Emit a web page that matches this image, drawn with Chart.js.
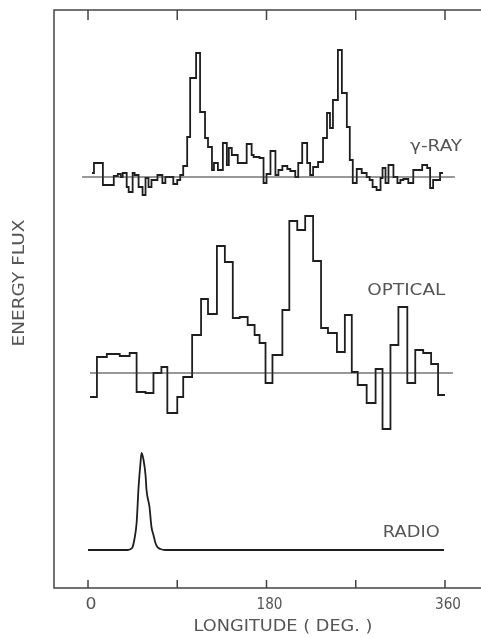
<!DOCTYPE html>
<html>
<head>
<meta charset="utf-8">
<script src="https://cdn.jsdelivr.net/npm/chart.js@4.4.0/dist/chart.umd.min.js"></script>
<style>
html,body{margin:0;padding:0;background:#fff;}
</style>
</head>
<body>
<canvas id="chart" width="481" height="638"></canvas>
<script>
// longitude (deg) of each bin start, flux relative to the series baseline
const xrayLon = [4,6,15,26,30,33,35,39,41,45,47,51,55,58,61,64,70,75,78,86,90,93,96,100,103,109,113,118,121,125,127,131,136,140,142,145,151,160,165,167,173,177,180,184,189,192,196,201,204,209,212,216,221,224,227,232,237,241,244,247,252,256,261,264,267,271,276,281,284,287,291,295,297,300,303,308,312,315,318,323,328,337,342,345,348,355,358];
const xrayFlux = [4,14,-8,1,3,0,4,-10,-15,4,2,-10,-18,-1,-10,-3,2,-6,0,-7,-3,2,11,40,99,124,65,39,30,7,14,7,34,12,29,22,14,33,22,20,19,-6,3,26,2,7,11,8,6,0,14,34,14,2,10,15,39,64,49,77,127,84,50,17,-6,8,4,0,-3,-10,-13,-1,9,-6,12,0,-6,-3,-2,-6,7,12,9,-11,-3,4,4];

const opticalLon = [2,9,19,32,42,49,58,66,74,80,90,96,105,114,121,130,138,146,153,161,168,173,179,186,196,203,211,219,227,235,242,251,259,266,272,281,290,297,305,313,322,330,338,346,353,360];
const opticalFlux = [-24,16,19,17,20,-19,-20,0,6,-40,-24,-4,38,74,59,127,111,55,56,48,38,30,-10,18,63,152,143,157,112,45,40,21,58,1,-12,-30,4,-56,28,66,-10,23,20,9,-22,-22];

const radioLon = [0,40,43,45,47,49,51,53,54,56,58,59,62,64,66,68,70,73,78,359];
const radioFlux = [0,0,1,3,12,27,63,88,97,90,75,60,43,23,15,7,3,1,0,0];

const xTicks = [0,90,180,270,360];
const xTickLabels = [0,180,360];

// layout: vertical offset of each trace and span of its zero line
const offsets = {xray:411, optical:215, radio:38};
const zeroSpan = {xray:[-6,370], optical:[2,368]};

const ink = "#1e1e1e";
const textCol = "#555";

function pts(lon, flux, off){
  return lon.map((x,i)=>({x:x, y:off+flux[i]}));
}

function fitText(ctx, text, cx, cy, w, size){
  ctx.font = size+'px "DejaVu Sans"';
  const m = ctx.measureText(text).width;
  ctx.save();
  ctx.translate(cx, cy);
  ctx.scale(w/m, 1);
  ctx.fillText(text, 0, 0);
  ctx.restore();
}

const decor = {
  id:"decor",
  afterDraw(chart){
    const ctx = chart.ctx;
    const xs = chart.scales.x, ys = chart.scales.y;
    const a = chart.chartArea;
    ctx.save();
    // frame (left, top, bottom)
    ctx.strokeStyle = "#444";
    ctx.lineWidth = 1.5;
    ctx.beginPath();
    ctx.moveTo(chart.width, a.top);
    ctx.lineTo(a.left, a.top);
    ctx.lineTo(a.left, a.bottom);
    ctx.lineTo(chart.width, a.bottom);
    ctx.stroke();
    // inward ticks
    xTicks.forEach(t=>{
      const px = xs.getPixelForValue(t);
      ctx.beginPath();
      ctx.moveTo(px, a.top); ctx.lineTo(px, a.top+10);
      ctx.moveTo(px, a.bottom); ctx.lineTo(px, a.bottom-8);
      ctx.stroke();
    });
    ctx.fillStyle = textCol;
    ctx.textAlign = "center";
    ctx.textBaseline = "middle";
    xTickLabels.forEach(t=>{
      const w = t===0 ? 11 : 26;
      fitText(ctx, String(t), xs.getPixelForValue(t)+3, a.bottom+17, w, 15);
    });
    fitText(ctx, "LONGITUDE ( DEG. )", 283, a.bottom+39, 179, 15);
    // series labels
    fitText(ctx, "\u03b3-RAY", xs.getPixelForValue(351), ys.getPixelForValue(offsets.xray+30), 52, 15);
    fitText(ctx, "OPTICAL", xs.getPixelForValue(321), ys.getPixelForValue(offsets.optical+82), 78, 16);
    fitText(ctx, "RADIO", xs.getPixelForValue(326), ys.getPixelForValue(offsets.radio+17), 57, 16);
    // y title
    ctx.save();
    ctx.translate(20, 283);
    ctx.rotate(-Math.PI/2);
    fitText(ctx, "ENERGY FLUX", 0, 0, 127, 15);
    ctx.restore();
    ctx.restore();
  }
};

// each value holds from its own longitude up to the next one
const stepStyle = {borderColor:ink, borderWidth:1.8, pointRadius:0, fill:false, stepped:"before"};
const zeroStyle = {borderColor:"#333", borderWidth:1.1, pointRadius:0, fill:false};

new Chart(document.getElementById("chart"),{
  type:"line",
  data:{
    datasets:[
      Object.assign({label:"X-ray zero", data:zeroSpan.xray.map(x=>({x:x,y:offsets.xray}))}, zeroStyle),
      Object.assign({label:"Optical zero", data:zeroSpan.optical.map(x=>({x:x,y:offsets.optical}))}, zeroStyle),
      Object.assign({label:"X-ray", data:pts(xrayLon,xrayFlux,offsets.xray)}, stepStyle),
      Object.assign({label:"Optical", data:pts(opticalLon,opticalFlux,offsets.optical)}, stepStyle),
      {label:"Radio", data:pts(radioLon,radioFlux,offsets.radio), borderColor:ink, borderWidth:1.8,
       pointRadius:0, fill:false, cubicInterpolationMode:"monotone"}
    ]
  },
  options:{
    responsive:false,
    animation:false,
    events:[],
    layout:{padding:{left:54,top:10,right:0,bottom:50}},
    plugins:{legend:{display:false}, tooltip:{enabled:false}},
    scales:{
      x:{type:"linear", min:-34.3, max:396.3, display:false},
      y:{type:"linear", min:0, max:578, display:false}
    }
  },
  plugins:[decor]
});
</script>
</body>
</html>
